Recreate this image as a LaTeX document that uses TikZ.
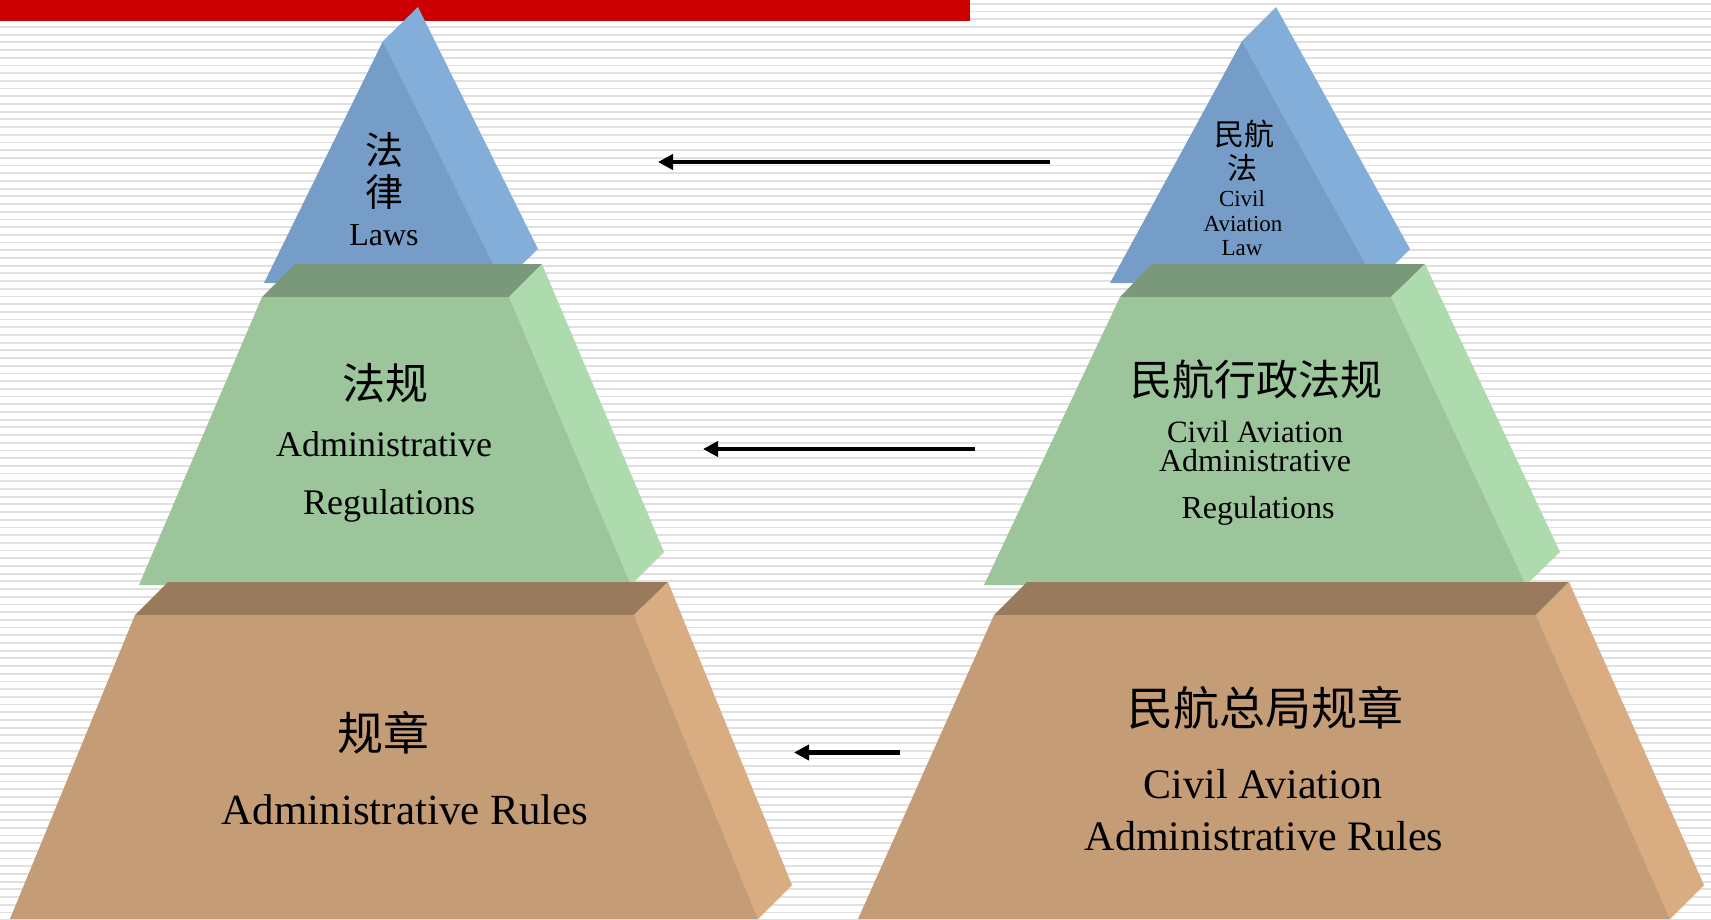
\documentclass[tikz,border=0pt]{standalone}
\usepackage{fontspec}
\setmainfont{Liberation Serif}
\newfontfamily\cjk{Noto Sans CJK SC}
\usetikzlibrary{arrows.meta}
\definecolor{redbar}{HTML}{CC0000}
\definecolor{stripecol}{HTML}{E0E0E0}
\definecolor{bluefront}{HTML}{769DC7}
\definecolor{blueside}{HTML}{83AED9}
\definecolor{greentop}{HTML}{7A987A}
\definecolor{greenfront}{HTML}{9CC59C}
\definecolor{greenside}{HTML}{AEDBAE}
\definecolor{browntop}{HTML}{997A5C}
\definecolor{brownfront}{HTML}{C49C76}
\definecolor{brownside}{HTML}{D9AC82}
\tikzset{
  stripe/.style={fill=stripecol},
  lbl/.style={inner sep=0pt, anchor=base, text=black},
  cj/.style={inner sep=0pt, anchor=center, text=black},
  arr/.style={line width=4.8pt, -{Triangle[length=15pt,width=15pt]}},
}
\newcommand{\fs}[1]{\fontsize{#1}{#1}\selectfont}
\begin{document}
\begin{tikzpicture}[x=1pt,y=-1pt]
\useasboundingbox (0,0) rectangle (1711,919);
\fill[white] (0,0) rectangle (1711,919);
\foreach \i in {0,...,119} \fill[stripe] (0,{2.9+7.7*\i}) rectangle (1711,{4.7+7.7*\i});
\fill[redbar] (0,0) rectangle (970,20.7);

% ---------- left pyramid ----------
\fill[blueside] (383,41) -- (418,7) -- (538,249) -- (503,283) -- cycle;
\fill[bluefront] (383,41) -- (264,283) -- (503,283) -- cycle;
\fill[greentop] (295,264) -- (542,264) -- (509,297) -- (262,297) -- cycle;
\fill[greenside] (509,297) -- (542,264) -- (664,552) -- (631,585) -- cycle;
\fill[greenfront] (262,297) -- (509,297) -- (631,585) -- (139,585) -- cycle;
\fill[browntop] (168,582) -- (668,582) -- (634,615) -- (135,615) -- cycle;
\fill[brownside] (634,615) -- (668,582) -- (792,885) -- (758,919) -- cycle;
\fill[brownfront] (135,615) -- (634,615) -- (758,919) -- (10,919) -- cycle;

% ---------- right pyramid ----------
\fill[blueside] (1242,41) -- (1276,7) -- (1410,249) -- (1376,283) -- cycle;
\fill[bluefront] (1242,41) -- (1110,283) -- (1376,283) -- cycle;
\fill[greentop] (1152,264) -- (1425,264) -- (1391,297) -- (1120,297) -- cycle;
\fill[greenside] (1391,297) -- (1425,264) -- (1560,552) -- (1526,585) -- cycle;
\fill[greenfront] (1120,297) -- (1391,297) -- (1526,585) -- (984,585) -- cycle;
\fill[browntop] (1027,582) -- (1569,582) -- (1536,615) -- (994,615) -- cycle;
\fill[brownside] (1536,615) -- (1569,582) -- (1704,885) -- (1670,919) -- cycle;
\fill[brownfront] (994,615) -- (1536,615) -- (1670,919) -- (858,919) -- cycle;

% ---------- left texts ----------
\node[cj, font={\cjk\fs{38}}] (lfa) at (384,150) {法};
\node[cj, font={\cjk\fs{38}}] (llv) at (384,192) {律};
\node[lbl, font=\fs{32}] (llaws) at (384,245) {Laws};
\node[cj, font={\cjk\fs{43}}] (lfg) at (385,383) {法规};
\node[lbl, font=\fs{36}] (ladm) at (384,456) {Administrative};
\node[lbl, font=\fs{36}] (lreg) at (389,514) {Regulations};
\node[cj, font={\cjk\fs{46}}] (lgz) at (383,733) {规章};
\node[lbl, font=\fs{43}] (lrules) at (405,824) {Administrative Rules};

% ---------- right texts ----------
\node[cj, font={\cjk\fs{30}}] (rmh) at (1244,134) {民航};
\node[cj, font={\cjk\fs{30}}] (rfa) at (1242,168) {法};
\node[lbl, font=\fs{23}] (rcivil) at (1242,206) {Civil};
\node[lbl, font=\fs{23}] (ravi) at (1243,231) {Aviation};
\node[lbl, font=\fs{23}] (rlaw) at (1242,255) {Law};
\node[cj, font={\cjk\fs{42}}] (rxz) at (1256,379) {民航行政法规};
\node[lbl, font=\fs{31}] (rca) at (1255,442) {Civil Aviation};
\node[lbl, font=\fs{32}] (radm) at (1255,471) {Administrative};
\node[lbl, font=\fs{32}] (rreg) at (1258,518) {Regulations};
\node[cj, font={\cjk\fs{46}}] (rgz) at (1265,708) {民航总局规章};
\node[lbl, font=\fs{42}] (rca2) at (1263,798) {Civil Aviation};
\node[lbl, font=\fs{42}] (rrules) at (1264,850) {Administrative Rules};

% ---------- arrows ----------
\coordinate (a1s) at (1050,162);
\coordinate (a1e) at (658,162);
\coordinate (a2s) at (975,449);
\coordinate (a2e) at (703,449);
\coordinate (a3s) at (900,752.5);
\coordinate (a3e) at (794,752.5);
\draw[arr] (a1s) -- (a1e);
\draw[arr] (a2s) -- (a2e);
\draw[arr] (a3s) -- (a3e);
\end{tikzpicture}
\end{document}
